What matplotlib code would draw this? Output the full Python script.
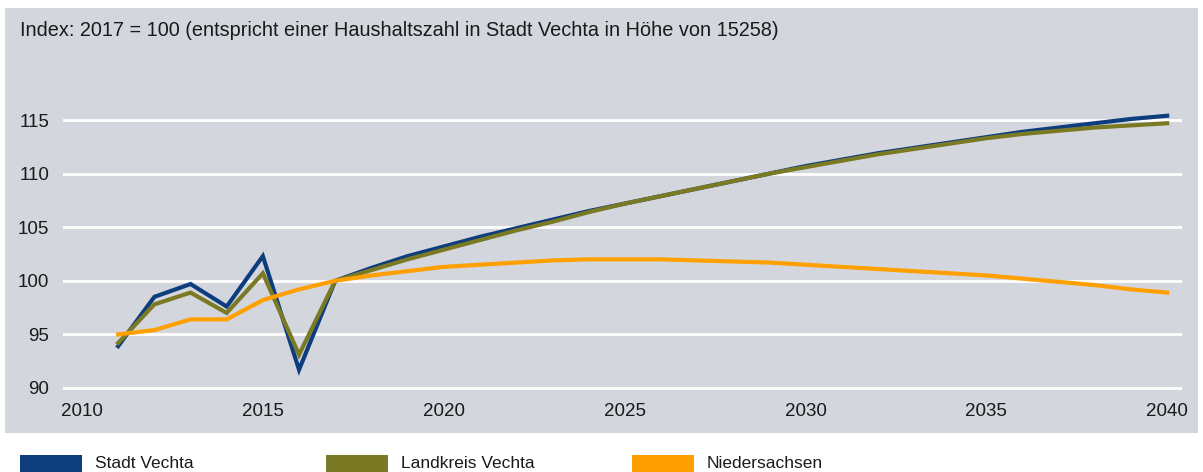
"""
Haushaltsentwicklung Stadt Vechta / Landkreis Vechta / Niedersachsen, Index 2017 = 100
"""

import matplotlib
matplotlib.use("Agg")
import matplotlib.pyplot as plt
from matplotlib.patches import Rectangle

plt.rcParams['font.family'] = ['Liberation Sans', 'DejaVu Sans']

years = list(range(2011, 2041))

# 2011-2016 observed, 2017-2040 projection
stadt_vechta = [93.9, 98.5, 99.7, 97.6, 102.3, 91.7,
                100.0, 101.2, 102.3, 103.2, 104.1, 104.9, 105.7, 106.5, 107.2, 107.9,
                108.6, 109.3, 110.0, 110.7, 111.3, 111.9, 112.4, 112.9, 113.4, 113.9,
                114.3, 114.7, 115.1, 115.4]
landkreis_vechta = [94.2, 97.8, 98.9, 97.0, 100.7, 93.1,
                    100.0, 101.0, 102.0, 102.9, 103.8, 104.7, 105.5, 106.4, 107.2, 107.9,
                    108.6, 109.3, 110.0, 110.6, 111.2, 111.8, 112.3, 112.8, 113.3, 113.7,
                    114.0, 114.3, 114.5, 114.7]
niedersachsen = [95.0, 95.4, 96.4, 96.4, 98.2, 99.2,
                 100.0, 100.5, 100.9, 101.3, 101.5, 101.7, 101.9, 102.0, 102.0, 102.0,
                 101.9, 101.8, 101.7, 101.5, 101.3, 101.1, 100.9, 100.7, 100.5, 100.2,
                 99.9, 99.6, 99.2, 98.9]

series_names = ["Stadt Vechta", "Landkreis Vechta", "Niedersachsen"]
series_colors = ["#0e3d7e", "#7b7a24", "#ff9f00"]

x_ticks = [2010, 2015, 2020, 2025, 2030, 2035, 2040]
y_ticks = [90, 95, 100, 105, 110, 115]
title = "Index: 2017 = 100 (entspricht einer Haushaltszahl in Stadt Vechta in Höhe von 15258)"

W, H = 1203, 472
fig = plt.figure(figsize=(W / 100, H / 100), dpi=100)
fig.patch.set_facecolor("white")

# grey panel behind the chart
bg = "#d4d6de"
fig.add_artist(Rectangle((5 / W, 1 - 433 / H), 1193 / W, 425 / H,
                         transform=fig.transFigure, facecolor=bg, edgecolor="none", zorder=0))

ax = fig.add_axes([63 / W, 0.1553, 1119 / W, 0.6131])
ax.set_facecolor("none")
for s in ax.spines.values():
    s.set_visible(False)

ax.set_xlim(2009.475, 2040.41)
ax.set_ylim(89, 116)
ax.set_xticks(x_ticks)
ax.set_yticks(y_ticks)
ax.tick_params(length=0, labelsize=13.5, colors="#1a1a1a")
ax.tick_params(axis="y", pad=10)
ax.tick_params(axis="x", pad=3)
ax.yaxis.grid(True, color="white", linewidth=2)
ax.set_axisbelow(True)

for vals, c in zip([stadt_vechta, landkreis_vechta, niedersachsen], series_colors):
    ax.plot(years, vals, color=c, linewidth=3, solid_joinstyle="miter", zorder=3)

fig.text(20 / W, 1 - 31 / H, title, fontsize=14.3, va="center", ha="left", color="#1a1a1a")

# legend along the bottom edge
legend_x = [20, 326, 632]
for x0, name, c in zip(legend_x, series_names, series_colors):
    fig.add_artist(Rectangle((x0 / W, 0), 62 / W, 17 / H, transform=fig.transFigure,
                             facecolor=c, edgecolor="none"))
    fig.text((x0 + 75) / W, 1 - 464 / H, name, fontsize=12.5, va="center", ha="left",
             color="#1a1a1a")

fig.savefig("out.png", dpi=100)
